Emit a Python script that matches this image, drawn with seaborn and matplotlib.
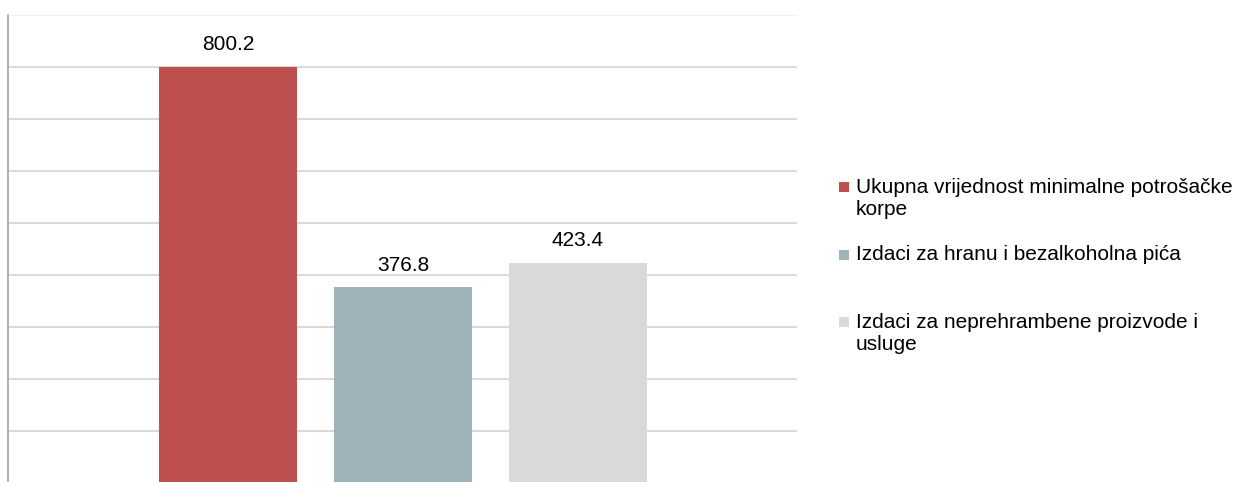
import matplotlib
matplotlib.use("Agg")
import matplotlib.pyplot as plt
from matplotlib.patches import Rectangle
from matplotlib.legend_handler import HandlerPatch
import seaborn as sns
import pandas as pd

# ===== DATA =====
categories = [
    "Ukupna vrijednost minimalne potrošačke korpe",
    "Izdaci za hranu i bezalkoholna pića",
    "Izdaci za neprehrambene proizvode i usluge",
]
legend_labels = [
    "Ukupna vrijednost minimalne potrošačke\nkorpe",
    "Izdaci za hranu i bezalkoholna pića\n",
    "Izdaci za neprehrambene proizvode i\nusluge",
]
values = [800.2, 376.8, 423.4]
colors = ["#C0504D", "#A0B3BA", "#D9D9D9"]

df = pd.DataFrame({"kategorija": categories, "vrijednost": values})

sns.set_style("white")
plt.rcParams["font.family"] = ["Liberation Sans", "DejaVu Sans"]

fig = plt.figure(figsize=(12.46, 4.82), dpi=100)
ax = fig.add_axes([8 / 1246, -1 / 482, 789 / 1246, 468 / 482])

sns.barplot(data=df, x="kategorija", y="vrijednost", hue="kategorija",
            palette=colors, width=0.789, saturation=1, legend=False,
            linewidth=0, edgecolor="none", ax=ax)

ax.set_xlim(-1.257, 3.251)
ax.set_ylim(0, 900)
ax.set_yticks(range(100, 1000, 100))
ax.yaxis.grid(True, color="#d9d9d9", linewidth=1.4)
ax.get_ygridlines()[-1].set_color("#f2f2f2")
ax.set_axisbelow(True)
ax.tick_params(left=False, bottom=False, labelleft=False, labelbottom=False)
ax.set_xlabel("")
ax.set_ylabel("")
for side in ["top", "right", "bottom"]:
    ax.spines[side].set_visible(False)
ax.spines["left"].set_color("#a6a6a6")
ax.spines["left"].set_linewidth(1.2)

for cont in ax.containers:
    ax.bar_label(cont, fmt="%.1f", padding=9, fontsize=15, color="#000000")


# legend square sits on the first text line, like in Excel
def top_square(legend, orig_handle, xdescent, ydescent, width, height, fontsize):
    side = width
    y0 = -ydescent + (height - side) / 2 + 0.56 * fontsize
    return Rectangle((-xdescent, y0), side, side)


handles = [p for cont in ax.containers for p in cont]
leg = fig.legend(handles, legend_labels, loc="upper left",
                 bbox_to_anchor=(839 / 1246, 1 - 178 / 482), frameon=False,
                 fontsize=15, handlelength=0.48, handleheight=0.7,
                 handletextpad=0.34, labelspacing=1.27, borderaxespad=0,
                 borderpad=0,
                 handler_map={Rectangle: HandlerPatch(patch_func=top_square)})
for t in leg.get_texts():
    t.set_color("#000000")

plt.savefig("out.png", dpi=100)
plt.close()
